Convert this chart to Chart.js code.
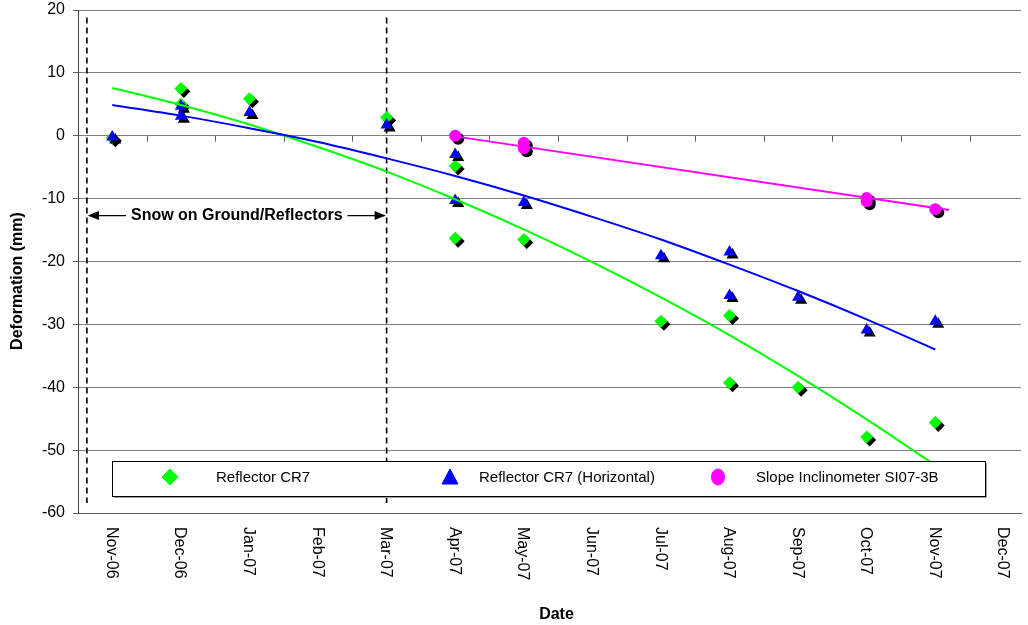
<!DOCTYPE html>
<html>
<head>
<meta charset="utf-8">
<script src="https://cdn.jsdelivr.net/npm/chart.js@4.4.0/dist/chart.umd.min.js"></script>
<style>
  body { margin: 0; background: #fff; }
  #wrap { width: 1028px; height: 625px; position: relative; }
</style>
</head>
<body>
<div id="wrap"><canvas id="deformChart"></canvas></div>
<script>
// month index 0 = Nov-06
const monthLabels = ['Nov-06', 'Dec-06', 'Jan-07', 'Feb-07', 'Mar-07', 'Apr-07', 'May-07',
  'Jun-07', 'Jul-07', 'Aug-07', 'Sep-07', 'Oct-07', 'Nov-07', 'Dec-07'];

const cr7X = [0, 1, 1, 2, 4, 5, 5, 6, 8, 9, 9, 10, 11, 12];
const cr7Y = [-0.3, 7.5, 5.0, 5.9, 2.9, -4.8, -16.3, -16.5, -29.5, -28.6, -39.3, -40.0, -47.9, -45.6];

const cr7hX = [0, 1, 1, 2, 4, 5, 5, 6, 8, 9, 9, 10, 11, 12];
const cr7hY = [-0.2, 4.7, 3.1, 3.7, 1.7, -3.0, -10.3, -10.6, -19.1, -18.5, -25.4, -25.7, -30.9, -29.5];

const siX = [5, 6, 6, 11, 11, 12];
const siY = [0, -1.1, -2.0, -9.9, -10.4, -11.7];

// trend lines
const trendX = [0, 1, 2, 3, 4, 5, 6, 7, 8, 9, 10, 11, 12];
const cr7Trend = [7.6, 4.9, 1.8, -1.8, -5.7, -10.1, -14.9, -20.1, -25.7, -31.7, -38.2, -45.1, -52.4];
const cr7hTrend = [4.9, 3.2, 1.2, -1.0, -3.6, -6.4, -9.5, -12.9, -16.5, -20.5, -24.7, -29.2, -34.0];
const siTrendX = [5, 12.2];
const siTrendY = [-0.1, -11.8];

// snow period markers
const snowX = [-0.37, 4.0];
const snowLineY = [18.8, -58.4];
const snowArrowY = -12.7;
const snowText = 'Snow on Ground/Reflectors';

const pts = (xs, ys) => xs.map((x, i) => ({ x: x, y: ys[i] }));

const GREEN = '#00ff00';
const BLUE = '#0000ff';
const MAGENTA = '#ff00ff';

const dashLine = (x) => ({
  type: 'line',
  data: pts([x, x], snowLineY),
  borderColor: '#000',
  borderWidth: 1.6,
  borderDash: [6, 4],
  pointRadius: 0,
  order: 10
});

const helperPlugin = {
  id: 'helper',
  beforeDatasetDraw(chart, args) {
    const ds = chart.data.datasets[args.index];
    if (ds.shadow) {
      const c = chart.ctx;
      c.save();
      c.shadowColor = '#000';
      c.shadowOffsetX = 3;
      c.shadowOffsetY = 3;
      c.shadowBlur = 0;
    }
  },
  afterDatasetDraw(chart, args) {
    const ds = chart.data.datasets[args.index];
    if (ds.shadow) chart.ctx.restore();
  },
  beforeDatasetsDraw(chart) {
    // small tick marks on the zero line, between month labels
    const c = chart.ctx, xs = chart.scales.x, ys = chart.scales.y;
    const y0 = ys.getPixelForValue(0);
    c.save();
    c.strokeStyle = '#606060';
    c.lineWidth = 1;
    for (let i = 0; i < monthLabels.length; i++) {
      const px = Math.round(xs.getPixelForValue(i + 0.5)) + 0.5;
      if (px > chart.chartArea.right) break;
      c.beginPath();
      c.moveTo(px, y0);
      c.lineTo(px, y0 + 6);
      c.stroke();
    }
    c.restore();
  },
  afterDatasetsDraw(chart) {
    const c = chart.ctx, xs = chart.scales.x, ys = chart.scales.y, area = chart.chartArea;

    // snow annotation
    const ay = ys.getPixelForValue(snowArrowY);
    const ax1 = xs.getPixelForValue(snowX[0]);
    const ax2 = xs.getPixelForValue(snowX[1]);
    const mid = (ax1 + ax2) / 2;
    c.save();
    c.font = 'bold 16px Arial, "Liberation Sans", sans-serif';
    c.fillStyle = '#000';
    c.textAlign = 'center';
    c.textBaseline = 'middle';
    c.fillText(snowText, mid, ay);
    const tw = c.measureText(snowText).width;
    c.strokeStyle = '#000';
    c.lineWidth = 1.3;
    c.beginPath();
    c.moveTo(ax1 + 2, ay); c.lineTo(mid - tw / 2 - 5, ay);
    c.moveTo(mid + tw / 2 + 5, ay); c.lineTo(ax2 - 2, ay);
    c.stroke();
    c.beginPath();
    c.moveTo(ax1 + 1, ay); c.lineTo(ax1 + 12, ay - 4.5); c.lineTo(ax1 + 12, ay + 4.5); c.closePath();
    c.moveTo(ax2 - 1, ay); c.lineTo(ax2 - 12, ay - 4.5); c.lineTo(ax2 - 12, ay + 4.5); c.closePath();
    c.fill();
    c.restore();

    // legend box inside the plot
    const lx = area.left + 34, ly = area.bottom - 52, lw = area.width - 70, lh = 35;
    c.save();
    c.fillStyle = '#a0a0a0';
    c.fillRect(lx + 2, ly + 2, lw, lh);
    c.fillStyle = '#fff';
    c.fillRect(lx, ly, lw, lh);
    c.strokeStyle = '#000';
    c.lineWidth = 1;
    c.strokeRect(Math.round(lx) + 0.5, Math.round(ly) + 0.5, Math.round(lw), Math.round(lh));
    const cy = ly + 16;
    const items = chart.data.datasets.filter(d => d.legendStyle);
    const markX = [lx + 58, lx + 338, lx + 606];
    const textX = [lx + 104, lx + 367, lx + 644];
    c.font = '15px Arial, "Liberation Sans", sans-serif';
    c.textBaseline = 'middle';
    c.textAlign = 'left';
    items.forEach((d, i) => {
      const mx = markX[i];
      c.fillStyle = d.backgroundColor;
      c.strokeStyle = d.borderColor;
      c.lineWidth = 1;
      c.beginPath();
      if (d.legendStyle === 'diamond') {
        c.moveTo(mx, cy - 8); c.lineTo(mx + 8, cy); c.lineTo(mx, cy + 8); c.lineTo(mx - 8, cy); c.closePath();
      } else if (d.legendStyle === 'triangle') {
        c.moveTo(mx, cy - 8); c.lineTo(mx + 8, cy + 7); c.lineTo(mx - 8, cy + 7); c.closePath();
      } else {
        c.ellipse(mx, cy, 6.5, 8, 0, 0, Math.PI * 2);
      }
      c.fill();
      c.stroke();
      c.fillStyle = '#000';
      c.fillText(d.label, textX[i], cy + 1);
    });
    c.restore();
  },
  afterDraw(chart) {
    // rotated month labels and axis titles
    const c = chart.ctx, xs = chart.scales.x, area = chart.chartArea;
    c.save();
    c.fillStyle = '#000';
    c.font = '16px Arial, "Liberation Sans", sans-serif';
    c.textAlign = 'left';
    c.textBaseline = 'middle';
    monthLabels.forEach((lab, i) => {
      const px = xs.getPixelForValue(i);
      c.save();
      c.translate(px - 1, area.bottom + 14);
      c.rotate(Math.PI / 2);
      c.fillText(lab, 0, 0);
      c.restore();
    });
    c.font = 'bold 16px Arial, "Liberation Sans", sans-serif';
    c.textAlign = 'center';
    c.fillText('Date', (area.left + area.right) / 2 + 7, 615);
    c.save();
    c.translate(18, 281);
    c.rotate(-Math.PI / 2);
    c.fillText('Deformation (mm)', 0, 0);
    c.restore();
    c.restore();
  }
};

new Chart(document.getElementById('deformChart'), {
  type: 'scatter',
  data: {
    datasets: [
      {
        label: 'Slope Inclinometer SI07-3B trend',
        type: 'line',
        data: pts(siTrendX, siTrendY),
        borderColor: MAGENTA,
        borderWidth: 2,
        pointRadius: 0,
        order: 0
      },
      {
        label: 'Reflector CR7 (Horizontal) trend',
        type: 'line',
        data: pts(trendX, cr7hTrend),
        borderColor: BLUE,
        borderWidth: 2,
        pointRadius: 0,
        cubicInterpolationMode: 'monotone',
        order: 1
      },
      {
        label: 'Reflector CR7 trend',
        type: 'line',
        data: pts(trendX, cr7Trend),
        borderColor: GREEN,
        borderWidth: 2,
        pointRadius: 0,
        cubicInterpolationMode: 'monotone',
        order: 2
      },
      {
        label: 'Reflector CR7',
        data: pts(cr7X, cr7Y),
        pointStyle: 'rectRot',
        pointRadius: 6.5,
        backgroundColor: GREEN,
        borderColor: GREEN,
        borderWidth: 0,
        shadow: true,
        legendStyle: 'diamond',
        order: 5
      },
      {
        label: 'Reflector CR7 (Horizontal)',
        data: pts(cr7hX, cr7hY),
        pointStyle: 'triangle',
        pointRadius: 7,
        backgroundColor: BLUE,
        borderColor: BLUE,
        borderWidth: 0,
        shadow: true,
        legendStyle: 'triangle',
        order: 4
      },
      {
        label: 'Slope Inclinometer SI07-3B',
        data: pts(siX, siY),
        pointStyle: 'circle',
        pointRadius: 6,
        backgroundColor: MAGENTA,
        borderColor: MAGENTA,
        borderWidth: 0,
        shadow: true,
        legendStyle: 'circle',
        order: 3
      },
      dashLine(snowX[0]),
      dashLine(snowX[1])
    ]
  },
  options: {
    responsive: true,
    maintainAspectRatio: false,
    animation: false,
    layout: { padding: { top: 10, right: 6, left: 0, bottom: 0 } },
    plugins: {
      legend: { display: false },
      tooltip: { enabled: false }
    },
    scales: {
      x: {
        type: 'linear',
        min: -0.5,
        max: 13.25,
        ticks: { display: false, stepSize: 1 },
        grid: { display: false },
        border: { display: true, color: '#606060', width: 1 },
        afterFit: (s) => { s.height = 112; s.paddingLeft = 0; s.paddingRight = 0; }
      },
      y: {
        min: -60,
        max: 20,
        ticks: {
          stepSize: 10,
          padding: 8,
          color: '#000',
          font: { family: 'Arial, "Liberation Sans", sans-serif', size: 16 }
        },
        grid: { color: '#808080', lineWidth: 1, tickLength: 5, tickColor: '#606060' },
        border: { display: true, color: '#404040', width: 1 },
        afterFit: (s) => { s.width = 78; s.paddingTop = 0; s.paddingBottom = 0; }
      }
    }
  },
  plugins: [helperPlugin]
});
</script>
</body>
</html>
